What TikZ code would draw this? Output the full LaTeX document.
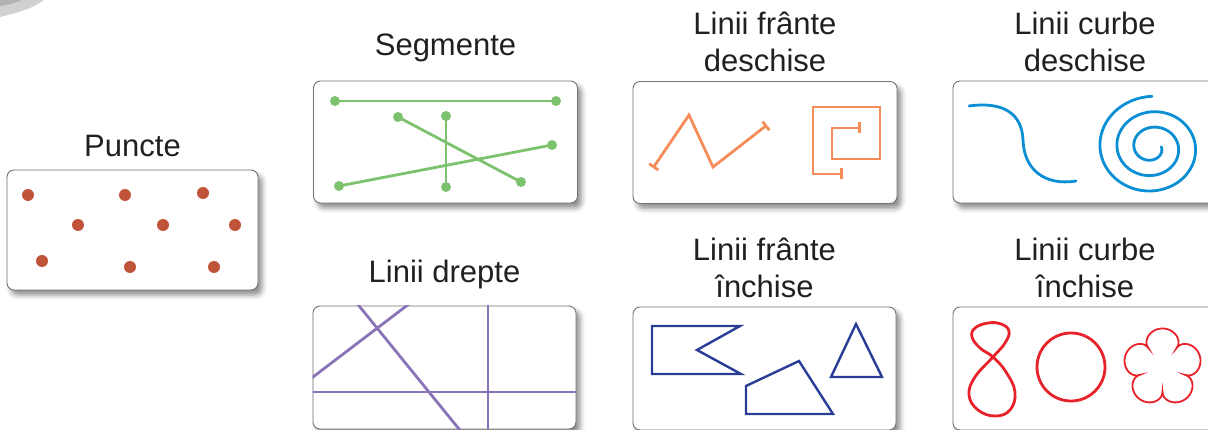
\documentclass[tikz,border=0pt]{standalone}
\usepackage{fontspec}
\setmainfont{Liberation Sans}
\usetikzlibrary{arrows.meta, positioning, shadows.blur}

\definecolor{labelgray}{HTML}{231F20}
\definecolor{dotred}{HTML}{C0533A}
\definecolor{seggreen}{HTML}{7DC36F}
\definecolor{brokorange}{HTML}{F58C5A}
\definecolor{curveblue}{HTML}{0A8FD4}
\definecolor{straightpurple}{HTML}{8A74B8}
\definecolor{polyblue}{HTML}{2A3D96}
\definecolor{closedred}{HTML}{E8222B}

\begin{document}
\begin{tikzpicture}[x=1pt, y=-1pt,
  box/.style={rectangle, draw=black!55, line width=0.9pt, rounded corners=7pt, fill=white,
             minimum width=264pt, minimum height=122pt, inner sep=0pt,
             blur shadow={shadow xshift=4pt, shadow yshift=-5pt,
                          shadow blur radius=5pt, shadow opacity=45}},
  lbl/.style={font=\fontsize{31}{37}\selectfont, text=labelgray,
             inner sep=0pt, text depth=0pt, align=center},
  segline/.style={seggreen, line width=2.8pt},
  brokline/.style={brokorange, line width=2.8pt, {Bar[width=11pt]}-{Bar[width=11pt]}},
  curveline/.style={curveblue, line width=2.8pt, line cap=round},
  straightline/.style={straightpurple, line width=2.8pt},
  polyline/.style={polyblue, line width=2.4pt, line join=miter},
  closedline/.style={closedred, line width=2.8pt}
]
\useasboundingbox (0,0) rectangle (1208,430);

\fill[black!18] (0,0) -- (44,0) .. controls (34,8) and (17,13) .. (0,17) -- cycle;
\fill[black!30] (0,0) -- (22,0) .. controls (15,3) and (8,5) .. (0,6) -- cycle;

\node[box, minimum width=251pt, minimum height=120pt] (puncte) at (132.5,230) {};
\node[box] (segm) at (445.5,142) {};
\node[box] (frde) at (765,142.5) {};
\node[box] (cude) at (1085,142) {};
\node[box, minimum width=263pt, minimum height=123pt] (drepte) at (444.5,367.5) {};
\node[box, minimum width=263pt, minimum height=123pt] (frin) at (764.5,368.5) {};
\node[box, minimum height=123pt] (cuin) at (1085,368.5) {};

\node[lbl, above=13pt of puncte] (lpuncte) {Puncte};
\node[lbl, above=25pt of segm] (lsegm) {Segmente};
\node[lbl, above=9pt of frde] (lfrde) {Linii frânte\\deschise};
\node[lbl, above=9pt of cude] (lcude) {Linii curbe\\deschise};
\node[lbl, above=23pt of drepte] (ldrepte) {Linii drepte};
\node[lbl, above=9pt of frin] (lfrin) {Linii frânte\\închise};
\node[lbl, above=9pt of cuin] (lcuin) {Linii curbe\\închise};

\foreach \p in {(28,195),(125,195),(203,193),(78,225),(163,225),(235,225),(42,261),(130,267),(214,267)}
  \fill[dotred] \p circle (6pt);

\foreach \a/\b in {{335,101}/{556,101}, {398,117}/{521,182}, {446,116}/{446,187}, {339,186}/{552,145}} {
  \draw[segline] (\a) -- (\b);
  \fill[seggreen] (\a) circle (5pt) (\b) circle (5pt);
}

\draw[brokline] (653,168) -- (689,115) -- (713,167) -- (767,125);
\draw[brokline] (843,174) -- (813,174) -- (813,107) -- (880,107) -- (880,159)
  -- (832,159) -- (832,128) -- (861,128);

\draw[curveline] (969,106) .. controls (1005,101) and (1022,115) .. (1023,140)
  .. controls (1024,170) and (1045,186) .. (1076,181);
\draw[curveline] plot[domain=90:1085, samples=300, variable=\t, smooth]
  ({1152+(52-17*(\t-180)/360)*cos(\t)}, {147.5-0.91*(52-17*(\t-180)/360)*sin(\t)});

\begin{scope}
  \clip (drepte.south west) rectangle (drepte.north east);
  \draw[straightline] (290,394.5) -- (420,295.6);
  \draw[straightline] (350,294.7) -- (470,442.6);
  \draw[straightline] (488,300) -- (488,440);
  \draw[straightline] (300,392) -- (590,392);
\end{scope}

\draw[polyline] (652,326) -- (740,326) -- (697,350) -- (741,374) -- (652,374) -- cycle;
\draw[polyline] (746,386) -- (799,361) -- (833,414) -- (746,414) -- cycle;
\draw[polyline] (856,324) -- (882,377) -- (831,377) -- cycle;

\draw[closedline] plot[smooth cycle, tension=0.7] coordinates {
  (993,357) (1006,372) (1015,392) (1010,410) (995,416) (978,410) (969,395) (975,377)
  (993,357) (1005,343) (1009,331) (1001,324) (988,323) (975,328) (972,337) (980,348)};
\draw[closedline] (1071,367) circle (34pt);
\draw[closedred, line width=1.8pt] plot[domain=0:360, samples=721, variable=\t]
  ({1162.5+(24+15*sqrt(abs(cos(5*(\t-90)/2))))*cos(\t)},
   {367.5-(24+15*sqrt(abs(cos(5*(\t-90)/2))))*sin(\t)}) -- cycle;
\end{tikzpicture}
\end{document}
